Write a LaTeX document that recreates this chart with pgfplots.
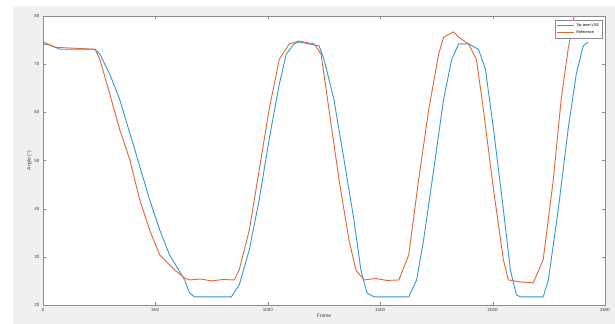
\documentclass[border=0pt]{standalone}
\usepackage{pgfplots}
\pgfplotsset{compat=1.18}
\usepackage{fontspec}
\setmainfont{Liberation Sans}
\definecolor{figbg}{RGB}{240,240,240}
\definecolor{mblue}{RGB}{50,150,220}
\definecolor{morange}{RGB}{228,100,50}
\definecolor{axgrey}{RGB}{140,140,140}
\begin{document}
\begin{tikzpicture}
\fill[white] (-43bp,-19bp) rectangle (572bp,305bp);
\fill[figbg] (-30bp,-19bp) rectangle (572bp,299bp);
\begin{axis}[
  at={(0,0)}, anchor=south west,
  scale only axis, width=562bp, height=289bp,
  xmin=0, xmax=2500, ymin=20, ymax=80,
  xtick={0,500,1000,1500,2000,2500},
  ytick={20,30,40,50,60,70,80},
  axis background/.style={fill=white},
  axis line style={axgrey, line width=0.5pt},
  tick style={axgrey},
  tick align=inside, major tick length=3bp,
  ticklabel style={font=\fontsize{4.5}{5}\selectfont, text=black!75},
  /pgf/number format/assume math mode=true,
  /pgf/number format/1000 sep={},
  xlabel={Frame}, ylabel={Angle (°)},
  label style={font=\fontsize{5}{6}\selectfont, text=black!75},
  xlabel style={yshift=4bp},
  ylabel style={yshift=-4bp},
  legend style={at={(0.995,0.985)}, anchor=north east, font=\fontsize{3.8}{4.5}\selectfont, draw=axgrey, inner sep=1pt, row sep=-1pt, line width=0.3pt},
  legend cell align=left,
  clip=true,
]
\addplot[mblue, line width=0.9pt] coordinates {
(0,74.2)(31,74.0)(75,73.1)(231,73.1)(253,72.1)(297,67.9)(341,62.7)(408,52.3)(474,41.9)(519,35.6)(563,30.4)(630,25.2)(652,22.5)(674,21.7)(838,21.7)(873,24.2)(918,31.5)(962,41.9)(1006,54.4)(1051,65.8)(1082,72.1)(1117,74.2)(1139,74.6)(1184,74.2)(1228,73.8)(1250,71.0)(1294,62.7)(1339,50.2)(1383,37.7)(1414,27.3)(1441,22.5)(1472,21.7)(1627,21.7)(1662,25.2)(1693,33.5)(1738,48.1)(1782,62.7)(1818,71.0)(1849,74.2)(1893,74.2)(1937,73.1)(1968,69.0)(2004,56.5)(2048,39.8)(2079,27.3)(2106,22.1)(2123,21.7)(2225,21.7)(2248,25.2)(2292,39.8)(2336,56.5)(2372,67.9)(2403,73.8)(2425,74.6)
};
\addlegendentry{Tip-term VSE}
\addplot[morange, line width=0.9pt] coordinates {
(0,74.6)(53,73.5)(231,73.1)(253,71.0)(297,63.8)(341,56.5)(386,50.2)(430,41.9)(474,35.6)(519,30.4)(585,27.3)(630,25.6)(652,25.2)(700,25.4)(750,25.0)(800,25.3)(851,25.2)(873,27.3)(918,35.6)(962,48.1)(1006,60.6)(1051,71.0)(1095,74.2)(1139,74.8)(1206,74.2)(1237,72.1)(1272,60.6)(1317,46.0)(1361,33.5)(1392,27.3)(1427,25.2)(1480,25.5)(1530,25.1)(1583,25.2)(1627,30.4)(1671,46.0)(1716,60.6)(1760,72.1)(1782,75.6)(1826,76.7)(1849,75.6)(1893,74.2)(1928,71.0)(1959,60.6)(2004,44.0)(2048,29.4)(2070,25.2)(2120,24.8)(2181,24.6)(2225,29.4)(2270,46.0)(2305,62.7)(2336,73.1)(2363,80)
};
\addlegendentry{Reference}
\end{axis}
\end{tikzpicture}
\end{document}
